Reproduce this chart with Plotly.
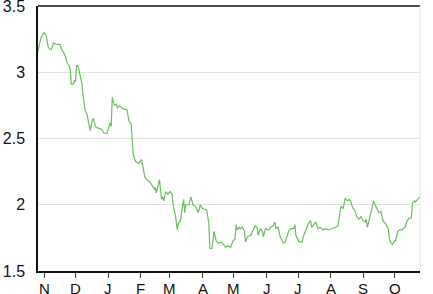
import plotly.graph_objects as go

dates = [
    "2018-10-26", "2018-10-29", "2018-11-01", "2018-11-03", "2018-11-05", "2018-11-07", "2018-11-08",
    "2018-11-10", "2018-11-13", "2018-11-16", "2018-11-18", "2018-11-21", "2018-11-23", "2018-11-25",
    "2018-11-26", "2018-11-27", "2018-11-29", "2018-11-30", "2018-12-01", "2018-12-02", "2018-12-03",
    "2018-12-04", "2018-12-05", "2018-12-07", "2018-12-08", "2018-12-10", "2018-12-12", "2018-12-14",
    "2018-12-15", "2018-12-17", "2018-12-18", "2018-12-20", "2018-12-22", "2018-12-26", "2018-12-28",
    "2018-12-31", "2019-01-02", "2019-01-03", "2019-01-04", "2019-01-05", "2019-01-07", "2019-01-09",
    "2019-01-10", "2019-01-12", "2019-01-14", "2019-01-17", "2019-01-19", "2019-01-21", "2019-01-23",
    "2019-01-24", "2019-01-25", "2019-01-27", "2019-01-30", "2019-02-02", "2019-02-04", "2019-02-05",
    "2019-02-07", "2019-02-10", "2019-02-14", "2019-02-15", "2019-02-16", "2019-02-18", "2019-02-19",
    "2019-02-21", "2019-02-22", "2019-02-23", "2019-02-25", "2019-02-27", "2019-03-01", "2019-03-03",
    "2019-03-04", "2019-03-06", "2019-03-08", "2019-03-09", "2019-03-11", "2019-03-12", "2019-03-14",
    "2019-03-15", "2019-03-16", "2019-03-19", "2019-03-20", "2019-03-21", "2019-03-23", "2019-03-25",
    "2019-03-27", "2019-03-28", "2019-03-30", "2019-04-01", "2019-04-02", "2019-04-05", "2019-04-07",
    "2019-04-08", "2019-04-10", "2019-04-11", "2019-04-12", "2019-04-14", "2019-04-16", "2019-04-19",
    "2019-04-21", "2019-04-23", "2019-04-25", "2019-04-28", "2019-04-30", "2019-05-02", "2019-05-03",
    "2019-05-04", "2019-05-06", "2019-05-07", "2019-05-09", "2019-05-11", "2019-05-12", "2019-05-14",
    "2019-05-17", "2019-05-19", "2019-05-21", "2019-05-23", "2019-05-24", "2019-05-26", "2019-05-28",
    "2019-05-29", "2019-05-31", "2019-06-03", "2019-06-05", "2019-06-07", "2019-06-09", "2019-06-10",
    "2019-06-12", "2019-06-14", "2019-06-17", "2019-06-19", "2019-06-22", "2019-06-24", "2019-06-27",
    "2019-06-28", "2019-06-29", "2019-07-02", "2019-07-05", "2019-07-06", "2019-07-09", "2019-07-11",
    "2019-07-13", "2019-07-14", "2019-07-17", "2019-07-18", "2019-07-20", "2019-07-22", "2019-07-25",
    "2019-07-27", "2019-07-30", "2019-08-02", "2019-08-05", "2019-08-08", "2019-08-10", "2019-08-11",
    "2019-08-13", "2019-08-15", "2019-08-17", "2019-08-19", "2019-08-20", "2019-08-22", "2019-08-24",
    "2019-08-26", "2019-08-28", "2019-08-30", "2019-09-01", "2019-09-03", "2019-09-04", "2019-09-05",
    "2019-09-07", "2019-09-09", "2019-09-11", "2019-09-12", "2019-09-14", "2019-09-16", "2019-09-18",
    "2019-09-20", "2019-09-23", "2019-09-25", "2019-09-26", "2019-09-27", "2019-09-29", "2019-10-01",
    "2019-10-02", "2019-10-04", "2019-10-06", "2019-10-08", "2019-10-11", "2019-10-13", "2019-10-15",
    "2019-10-17", "2019-10-18", "2019-10-20", "2019-10-21", "2019-10-23", "2019-10-25",
]

values = [
    3.15, 3.26, 3.30, 3.28, 3.19, 3.17, 3.17,
    3.22, 3.21, 3.21, 3.17, 3.13, 3.07, 3.05,
    3.02, 2.91, 2.91, 2.94, 2.93, 3.05, 3.05,
    3.03, 2.99, 2.92, 2.84, 2.72, 2.68, 2.61,
    2.56, 2.64, 2.65, 2.59, 2.58, 2.57, 2.54,
    2.54, 2.61, 2.62, 2.59, 2.81, 2.75, 2.76,
    2.73, 2.75, 2.73, 2.72, 2.72, 2.63, 2.61,
    2.51, 2.38, 2.33, 2.31, 2.34, 2.27, 2.21,
    2.19, 2.17, 2.12, 2.13, 2.09, 2.16, 2.19,
    2.04, 2.06, 2.03, 2.10, 2.08, 2.10, 2.08,
    2.00, 1.93, 1.81, 1.86, 1.88, 1.94, 2.04,
    1.94, 2.00, 2.00, 2.03, 2.06, 2.00, 1.99,
    1.96, 1.94, 2.00, 1.97, 1.97, 1.96, 1.86,
    1.67, 1.67, 1.75, 1.80, 1.73, 1.71, 1.72,
    1.70, 1.68, 1.69, 1.68, 1.73, 1.74, 1.85,
    1.81, 1.83, 1.82, 1.83, 1.80, 1.72, 1.76,
    1.77, 1.81, 1.84, 1.83, 1.77, 1.82, 1.80,
    1.76, 1.82, 1.81, 1.83, 1.84, 1.87, 1.82,
    1.83, 1.76, 1.71, 1.72, 1.80, 1.82, 1.82,
    1.85, 1.77, 1.72, 1.72, 1.76, 1.83, 1.86,
    1.88, 1.83, 1.86, 1.87, 1.82, 1.83, 1.81,
    1.82, 1.81, 1.82, 1.83, 1.84, 1.94, 1.99,
    1.97, 2.05, 2.03, 2.04, 2.03, 1.98, 1.96,
    1.91, 1.89, 1.91, 1.88, 1.87, 1.89, 1.83,
    1.89, 1.96, 2.03, 2.01, 1.97, 1.94, 1.95,
    1.88, 1.85, 1.82, 1.75, 1.72, 1.70, 1.73,
    1.73, 1.80, 1.81, 1.81, 1.83, 1.88, 1.90,
    1.90, 2.01, 2.03, 2.02, 2.04, 2.06,
]

month_ticks = ["2018-11-01", "2018-12-01", "2019-01-01", "2019-02-01", "2019-03-01", "2019-04-01",
               "2019-05-01", "2019-06-01", "2019-07-01", "2019-08-01", "2019-09-01", "2019-10-01"]
month_labels = ["N", "D", "J", "F", "M", "A", "M", "J", "J", "A", "S", "O"]
y_ticks = [1.5, 2, 2.5, 3, 3.5]
y_labels = ["1.5", "2", "2.5", "3", "3.5"]

fig = go.Figure()
fig.add_trace(go.Scatter(
    x=dates, y=values, mode="lines",
    line=dict(color="#6cbd5f", width=1.2),
    hoverinfo="skip",
))

font = dict(family="Liberation Sans, Arial, sans-serif", size=16, color="#111111")
xfont = dict(family="Liberation Sans, Arial, sans-serif", size=15, color="#111111")

month_annotations = [
    dict(x=t, y=0, xref="x", yref="paper", text=lab, showarrow=False,
         xanchor="center", yanchor="top", yshift=-7, font=xfont)
    for t, lab in zip(month_ticks, month_labels)
]

fig.update_layout(
    width=433, height=294,
    margin=dict(l=38, r=13, t=6, b=23, autoexpand=False),
    paper_bgcolor="white", plot_bgcolor="white",
    showlegend=False,
    font=font,
    xaxis=dict(
        type="date",
        range=["2018-10-26 06:00", "2019-10-25 06:00"],
        tickvals=month_ticks, showticklabels=False,
        automargin=False,
        showgrid=False, zeroline=False,
        showline=True, linecolor="#111111", linewidth=1.5,
        ticks="outside", ticklen=5, tickcolor="#444444", tickwidth=1,
    ),
    yaxis=dict(
        range=[1.5, 3.5004], automargin=False,
        tickvals=y_ticks, ticktext=y_labels,
        showgrid=True, gridcolor="#e2e2e2", gridwidth=1,
        zeroline=False,
        showline=True, linecolor="#111111", linewidth=1.5,
        ticks="", ticklabelstandoff=8,
        ticklabeloverflow="allow",
        tickfont=font,
    ),
    annotations=month_annotations,
    shapes=[
        dict(type="line", xref="paper", yref="paper", x0=0, x1=1, y0=1, y1=1,
             line=dict(color="#111111", width=1.5)),
        dict(type="line", xref="paper", yref="paper", x0=1, x1=1, y0=0, y1=1,
             line=dict(color="#e6e6e6", width=1)),
    ],
)

fig.write_html("out.html")
